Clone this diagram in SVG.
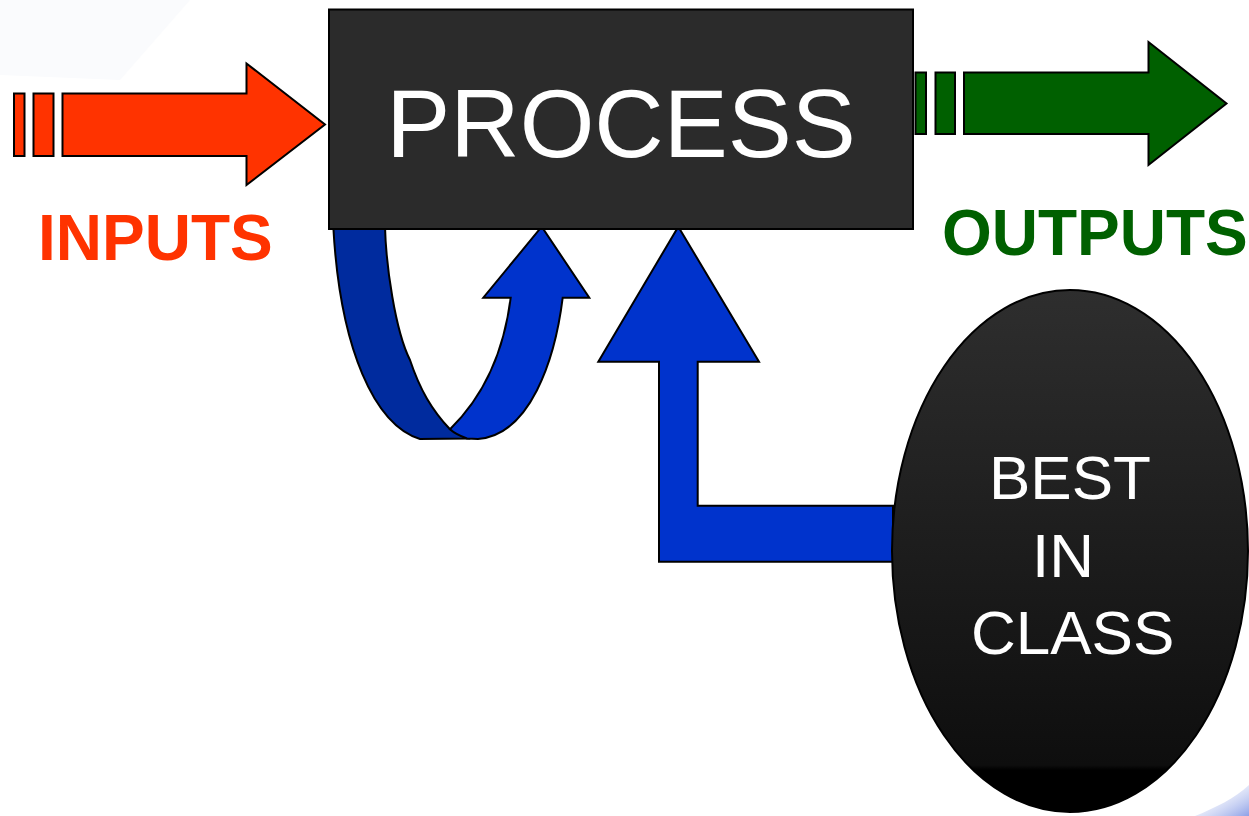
<svg xmlns="http://www.w3.org/2000/svg" width="1249" height="816" viewBox="0 0 1249 816">
<defs>
<linearGradient id="ellGrad" x1="0" y1="0" x2="0" y2="1">
<stop offset="0" stop-color="#2e2e2e"/>
<stop offset="0.91" stop-color="#0e0e0e"/>
<stop offset="0.92" stop-color="#000"/>
<stop offset="1" stop-color="#000"/>
</linearGradient>
<linearGradient id="swoosh" x1="0" y1="0" x2="1" y2="1">
<stop offset="0" stop-color="#ffffff" stop-opacity="0"/>
<stop offset="1" stop-color="#7088e0" stop-opacity="0.8"/>
</linearGradient>
<style>
.stk{stroke:#000;stroke-width:2;stroke-linejoin:miter}
.red{fill:#ff3300}
.green{fill:#006000}
.blue{fill:#0033cc}
.dblue{fill:#002b9e}
.lbl{font-family:"Liberation Sans",Arial,sans-serif;font-weight:bold;font-size:64px}
.wt{font-family:"Liberation Sans",Arial,sans-serif;fill:#fff}
</style>
</defs>
<rect width="1249" height="816" fill="#fff"/>
<path d="M0,0 L190,0 L120,80 L0,75 Z" fill="#fafbfd"/>
<path d="M1195,816 C1215,808 1235,798 1249,785 L1249,816 Z" fill="url(#swoosh)"/>

<g id="connectors">
<g id="inputs-arrow">
<rect class="red stk" x="14" y="93.5" width="10.5" height="62.5"/>
<rect class="red stk" x="33.5" y="93.5" width="20" height="62.5"/>
<path class="red stk" d="M62.5,93.5 L246.5,93.5 L246.5,63.5 L325,124.5 L246.5,185 L246.5,156 L62.5,156 Z"/>
</g>
<g id="outputs-arrow">
<rect class="green stk" x="915.5" y="72.5" width="10.5" height="61.5"/>
<rect class="green stk" x="935.5" y="72.5" width="19.5" height="61.5"/>
<path class="green stk" d="M964,72.5 L1148.5,72.5 L1148.5,42 L1226.5,103.5 L1148.5,165 L1148.5,134 L964,134 Z"/>
</g>
<g id="loop-arrow">
<path class="dblue stk" d="M333.3,226.7 L385,226.7 C386,265 395,330 410,360 C420,390 432,410 450,429.3 L467,438.5 L420,439 C375,425 340,350 333.3,226.7 Z"/>
<path class="blue stk" d="M510.7,297.7 L483.3,297.7 L541.7,226.7 L589.3,297.7 L562.7,297.7 C555,360 530,435 478,439 L467,438.5 C460,436 454,433 450,429.3 C480,400 503,360 510.7,297.7 Z"/>
</g>
<g id="benchmark-arrow">
<path class="blue stk" d="M893,505.7 L697.7,505.7 L697.7,361.7 L759,361.7 L678.3,226.7 L598.3,361.7 L659,361.7 L659,561.7 L893,561.7 Z"/>
</g>
</g>

<g id="process">
<rect x="329" y="9.5" width="584" height="219.5" fill="#2b2b2b" class="stk"/>
<text class="wt" x="621" y="157" font-size="96" text-anchor="middle">PROCESS</text>
</g>

<g id="best-in-class">
<ellipse cx="1070" cy="551" rx="178" ry="261" fill="url(#ellGrad)" stroke="#000" stroke-width="2"/>
<text class="wt" font-size="62" x="989" y="499">BEST</text>
<text class="wt" font-size="62" x="1032" y="577">IN</text>
<text class="wt" font-size="62" x="971" y="654">CLASS</text>
</g>

<g id="labels">
<text class="lbl" x="38" y="260" fill="#ff3300">INPUTS</text>
<text class="lbl" x="942" y="255" fill="#006000">OUTPUTS</text>
</g>
</svg>
